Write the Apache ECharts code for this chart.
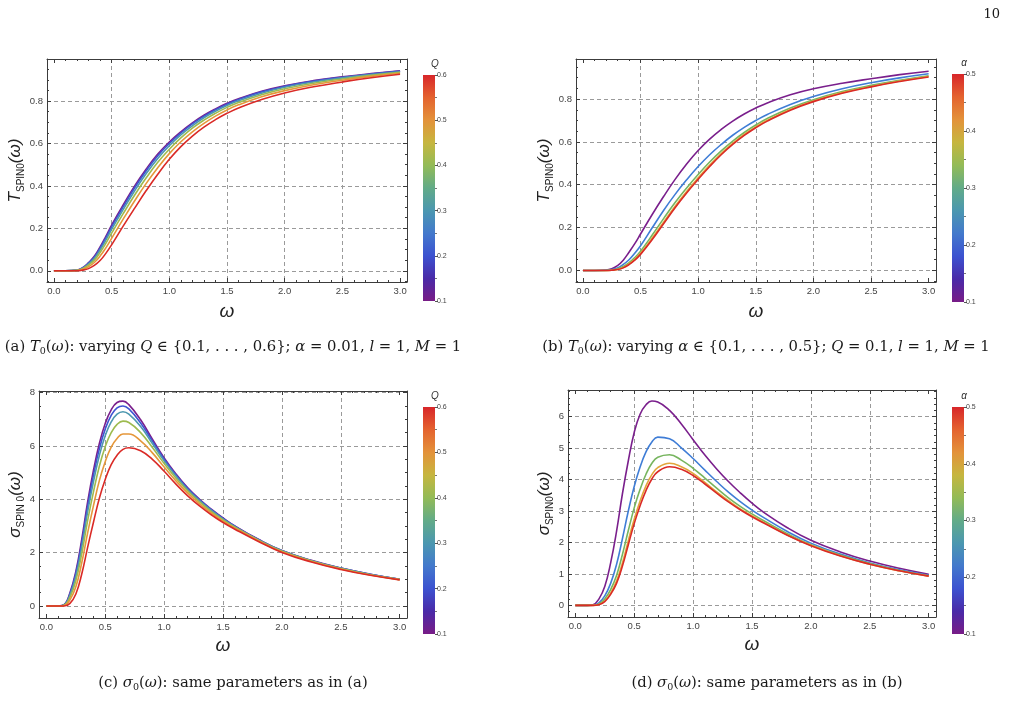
<!DOCTYPE html>
<html>
<head>
<meta charset="utf-8">
<script src="https://cdn.jsdelivr.net/npm/echarts@6/dist/echarts.min.js"></script>
<style>
  html, body { margin: 0; padding: 0; background: #fff; }
  #main { width: 1010px; height: 701px; }
</style>
</head>
<body>
<div id="main"></div>
<script>
// sample points on the omega axis
const omegaT = [0, 0.1, 0.2, 0.25, 0.3, 0.35, 0.4, 0.45, 0.5, 0.6, 0.7, 0.8, 0.9, 1.0, 1.1, 1.2, 1.3, 1.4, 1.5, 1.6, 1.8, 2.0, 2.25, 2.5, 2.75, 3.0];
const omegaS = [0, 0.1, 0.15, 0.2, 0.25, 0.3, 0.35, 0.4, 0.45, 0.5, 0.55, 0.6, 0.65, 0.7, 0.8, 0.9, 1.0, 1.1, 1.2, 1.3, 1.4, 1.5, 1.6, 1.8, 2.0, 2.25, 2.5, 2.75, 3.0];

const qValues = [0.1, 0.2, 0.3, 0.4, 0.5, 0.6];
const alphaValues = [0.1, 0.2, 0.3, 0.4, 0.5];

// (a) T0(omega), varying Q
const tQ01 = [0, 0, 0.003, 0.015, 0.038, 0.068, 0.112, 0.162, 0.215, 0.31, 0.40, 0.48, 0.55, 0.607, 0.655, 0.697, 0.733, 0.763, 0.789, 0.811, 0.846, 0.872, 0.896, 0.914, 0.929, 0.942];
const tQ02 = [0, 0, 0.003, 0.014, 0.036, 0.064, 0.106, 0.155, 0.207, 0.301, 0.391, 0.471, 0.542, 0.600, 0.649, 0.692, 0.728, 0.759, 0.785, 0.807, 0.843, 0.869, 0.894, 0.912, 0.927, 0.941];
const tQ03 = [0, 0, 0.002, 0.012, 0.032, 0.059, 0.098, 0.144, 0.195, 0.288, 0.377, 0.458, 0.529, 0.589, 0.640, 0.683, 0.721, 0.752, 0.779, 0.801, 0.837, 0.865, 0.890, 0.909, 0.925, 0.938];
const tQ04 = [0, 0, 0.002, 0.010, 0.027, 0.050, 0.086, 0.129, 0.177, 0.269, 0.357, 0.438, 0.511, 0.573, 0.626, 0.672, 0.710, 0.742, 0.770, 0.793, 0.830, 0.858, 0.884, 0.904, 0.921, 0.935];
const tQ05 = [0, 0, 0.001, 0.007, 0.019, 0.039, 0.069, 0.108, 0.153, 0.243, 0.330, 0.412, 0.486, 0.552, 0.608, 0.655, 0.695, 0.729, 0.758, 0.782, 0.820, 0.849, 0.877, 0.898, 0.916, 0.931];
const tQ06 = [0, 0, 0, 0.003, 0.01, 0.025, 0.048, 0.082, 0.122, 0.21, 0.295, 0.378, 0.455, 0.525, 0.585, 0.635, 0.677, 0.712, 0.742, 0.767, 0.807, 0.838, 0.867, 0.89, 0.91, 0.926];

// (b) T0(omega), varying alpha
const tA01 = [0, 0, 0.002, 0.008, 0.022, 0.048, 0.085, 0.125, 0.17, 0.26, 0.345, 0.425, 0.497, 0.56, 0.613, 0.658, 0.697, 0.73, 0.758, 0.782, 0.82, 0.848, 0.874, 0.895, 0.914, 0.93];
const tA02 = [0, 0, 0.001, 0.004, 0.012, 0.028, 0.05, 0.08, 0.115, 0.198, 0.28, 0.355, 0.423, 0.485, 0.54, 0.588, 0.631, 0.668, 0.70, 0.728, 0.775, 0.812, 0.848, 0.876, 0.899, 0.918];
const tA03 = [0, 0, 0, 0.002, 0.007, 0.018, 0.036, 0.060, 0.09, 0.164, 0.242, 0.317, 0.385, 0.448, 0.506, 0.558, 0.604, 0.644, 0.679, 0.709, 0.758, 0.797, 0.835, 0.864, 0.888, 0.909];
const tA04 = [0, 0, 0, 0.001, 0.005, 0.014, 0.030, 0.052, 0.080, 0.150, 0.225, 0.300, 0.369, 0.432, 0.492, 0.546, 0.593, 0.635, 0.670, 0.701, 0.751, 0.791, 0.830, 0.859, 0.884, 0.905];
const tA05 = [0, 0, 0, 0.001, 0.004, 0.012, 0.027, 0.048, 0.075, 0.143, 0.218, 0.293, 0.362, 0.425, 0.485, 0.54, 0.588, 0.63, 0.666, 0.697, 0.748, 0.788, 0.827, 0.857, 0.882, 0.903];

// (c) sigma0(omega), varying Q
const sQ01 = [0, 0, 0.05, 0.5, 1.3, 2.5, 3.9, 5.1, 6.1, 6.85, 7.35, 7.63, 7.68, 7.55, 6.98, 6.25, 5.55, 4.95, 4.43, 4.0, 3.63, 3.3, 3.0, 2.5, 2.08, 1.71, 1.42, 1.19, 1.0];
const sQ02 = [0, 0, 0.045, 0.46, 1.22, 2.37, 3.73, 4.91, 5.9, 6.64, 7.15, 7.43, 7.5, 7.39, 6.86, 6.18, 5.5, 4.91, 4.4, 3.98, 3.61, 3.28, 2.99, 2.49, 2.07, 1.7, 1.42, 1.19, 1.0];
const sQ03 = [0, 0, 0.04, 0.41, 1.11, 2.21, 3.53, 4.67, 5.65, 6.39, 6.9, 7.19, 7.28, 7.19, 6.73, 6.09, 5.44, 4.87, 4.36, 3.95, 3.58, 3.26, 2.97, 2.48, 2.07, 1.7, 1.41, 1.18, 1.0];
const sQ04 = [0, 0, 0.03, 0.33, 0.95, 1.96, 3.2, 4.29, 5.25, 5.98, 6.5, 6.81, 6.93, 6.88, 6.5, 5.94, 5.34, 4.79, 4.31, 3.9, 3.54, 3.23, 2.95, 2.47, 2.05, 1.69, 1.4, 1.17, 0.99];
const sQ05 = [0, 0, 0.02, 0.23, 0.72, 1.62, 2.74, 3.77, 4.71, 5.42, 5.96, 6.28, 6.45, 6.45, 6.19, 5.74, 5.21, 4.69, 4.23, 3.83, 3.49, 3.18, 2.92, 2.45, 2.03, 1.67, 1.39, 1.16, 0.99];
const sQ06 = [0, 0, 0, 0.1, 0.45, 1.2, 2.2, 3.15, 4.05, 4.75, 5.3, 5.65, 5.87, 5.93, 5.82, 5.5, 5.05, 4.57, 4.13, 3.75, 3.42, 3.13, 2.88, 2.42, 2.01, 1.65, 1.37, 1.15, 0.98];

// (d) sigma0(omega), varying alpha
const sA01 = [0, 0, 0.02, 0.2, 0.6, 1.35, 2.35, 3.55, 4.6, 5.5, 6.08, 6.38, 6.5, 6.47, 6.2, 5.77, 5.27, 4.78, 4.34, 3.94, 3.58, 3.25, 2.96, 2.47, 2.07, 1.7, 1.41, 1.18, 0.99];
const sA02 = [0, 0, 0.005, 0.08, 0.3, 0.7, 1.3, 2.12, 3.0, 3.78, 4.4, 4.88, 5.2, 5.35, 5.3, 5.01, 4.67, 4.3, 3.94, 3.6, 3.3, 3.03, 2.79, 2.35, 1.98, 1.63, 1.35, 1.13, 0.96];
const sA03 = [0, 0, 0.002, 0.045, 0.2, 0.5, 0.95, 1.62, 2.38, 3.1, 3.69, 4.17, 4.52, 4.71, 4.79, 4.62, 4.36, 4.05, 3.73, 3.42, 3.15, 2.91, 2.69, 2.28, 1.93, 1.6, 1.33, 1.11, 0.94];
const sA04 = [0, 0, 0.001, 0.027, 0.14, 0.39, 0.77, 1.35, 2.06, 2.74, 3.32, 3.8, 4.16, 4.38, 4.52, 4.41, 4.2, 3.91, 3.61, 3.33, 3.07, 2.85, 2.64, 2.24, 1.91, 1.58, 1.31, 1.1, 0.93];
const sA05 = [0, 0, 0, 0.02, 0.12, 0.35, 0.7, 1.25, 1.93, 2.6, 3.17, 3.65, 4.02, 4.25, 4.41, 4.33, 4.13, 3.86, 3.57, 3.29, 3.04, 2.82, 2.62, 2.23, 1.9, 1.57, 1.31, 1.1, 0.93];

// tick labels
const xTicks = [0, 0.5, 1, 1.5, 2, 2.5, 3];
const xGridLines = [0.5, 1, 1.5, 2, 2.5];
const yTicksT = [0, 0.2, 0.4, 0.6, 0.8];
const yTicksSQ = [0, 2, 4, 6, 8];
const yTicksSA = [0, 1, 2, 3, 4, 5, 6];

const qColors = ['#7a1f8c', '#3e55d2', '#4d98b0', '#9dbb4f', '#e5973a', '#da2a26'];
const alphaColors = ['#7a1f8c', '#3f7dd6', '#77b55f', '#e2a63c', '#da2a26'];
const rainbowStops = [
  [0, '#781c86'], [0.1, '#4a2aa8'], [0.2, '#3c52d0'], [0.3, '#4379cc'],
  [0.4, '#4b97b0'], [0.5, '#62ab88'], [0.6, '#93bb57'], [0.7, '#c6b63f'],
  [0.8, '#e3923a'], [0.9, '#e4632f'], [1, '#d8262a']
];

const FRAME = '#3c3c3c';
const LABEL = '#444';
const SANS = 'Liberation Sans';
const SERIF = 'DejaVu Serif';

const chart = echarts.init(document.getElementById('main'), null, { renderer: 'canvas' });

const grids = [];
const xAxes = [];
const yAxes = [];
const series = [];

function minorTicks(min, max, step, majorStep) {
  const out = [];
  for (let k = Math.ceil(min / step); k * step <= max; k++) {
    const v = Math.round(k * step * 10000) / 10000;
    const r = v / majorStep;
    if (Math.abs(r - Math.round(r)) > 1e-6) out.push(v);
  }
  return out;
}

// one value axis; only ticks / line / labels switched on as asked
function axis(gi, pos, min, max, o) {
  return {
    type: 'value', gridIndex: gi, position: pos, min: min, max: max,
    silent: true,
    axisLine: { show: !!o.line, onZero: false, lineStyle: { color: FRAME, width: 1 } },
    axisTick: { show: !!o.len, inside: true, length: o.len || 0, customValues: o.ticks, lineStyle: { color: FRAME, width: 1 } },
    axisLabel: o.fmt
      ? { show: true, customValues: o.ticks, formatter: o.fmt, color: LABEL, fontFamily: SANS, fontSize: 9.5, margin: 4 }
      : { show: false },
    splitLine: o.split
      ? { show: true, lineStyle: { color: '#9a9a9a', width: 1, type: [4, 3] } }
      : { show: false },
    name: o.name || '', nameLocation: 'middle', nameGap: o.nameGap || 0,
    nameRotate: o.nameRotate, nameTextStyle: o.nameStyle
  };
}

const nameRich = {
  t: { fontFamily: SANS, fontStyle: 'italic', fontSize: 17, lineHeight: 22, color: '#222' },
  s: { fontFamily: SANS, fontSize: 10, lineHeight: 10, verticalAlign: 'bottom', color: '#222' }
};

function addPlot(p) {
  const gi = grids.length;
  grids.push({ left: p.box[0], top: p.box[1], width: p.box[2], height: p.box[3], outerBoundsMode: 'none', containLabel: false });
  const xi = xAxes.length, yi = yAxes.length;
  const xMinor = minorTicks(p.x[0], p.x[1], 0.1, 0.5);
  const yMinor = minorTicks(p.y[0], p.y[1], p.yMinor, p.yMajor);
  const fmtX = v => v.toFixed(1);

  xAxes.push(axis(gi, 'bottom', p.x[0], p.x[1], {
    line: true, len: 4, ticks: xTicks, fmt: fmtX,
    name: '\u03c9', nameGap: p.xNameGap,
    nameStyle: { fontFamily: SANS, fontStyle: 'italic', fontSize: 19, color: '#222' }
  }));
  xAxes.push(axis(gi, 'bottom', p.x[0], p.x[1], { len: 2, ticks: xMinor }));
  xAxes.push(axis(gi, 'top', p.x[0], p.x[1], { line: true, len: 4, ticks: xTicks }));
  xAxes.push(axis(gi, 'top', p.x[0], p.x[1], { len: 2, ticks: xMinor }));
  xAxes.push(axis(gi, 'bottom', p.x[0], p.x[1], { ticks: xGridLines, split: true }));

  yAxes.push(axis(gi, 'left', p.y[0], p.y[1], {
    line: true, len: 4, ticks: p.yTicks, fmt: p.yFmt,
    name: p.yName, nameGap: p.yNameGap, nameRotate: 90,
    nameStyle: { rich: nameRich }
  }));
  yAxes.push(axis(gi, 'left', p.y[0], p.y[1], { len: 2, ticks: yMinor }));
  yAxes.push(axis(gi, 'right', p.y[0], p.y[1], { line: true, len: 4, ticks: p.yTicks }));
  yAxes.push(axis(gi, 'right', p.y[0], p.y[1], { len: 2, ticks: yMinor }));
  yAxes.push(axis(gi, 'left', p.y[0], p.y[1], { ticks: p.yTicks, split: true }));

  p.curves.forEach((c, i) => {
    series.push({
      type: 'line', xAxisIndex: xi, yAxisIndex: yi,
      data: p.omega.map((w, k) => [w, c[k]]),
      showSymbol: false, smooth: 0.45, silent: true, z: 3 + i,
      lineStyle: { width: 1.6, color: p.colors[i] },
      itemStyle: { color: p.colors[i] }
    });
  });
}

function addColorbar(box, values, label) {
  const gi = grids.length;
  grids.push({ left: box[0], top: box[1], width: box[2], height: box[3], outerBoundsMode: 'none', containLabel: false });
  const xi = xAxes.length, yi = yAxes.length;
  const vmin = values[0], vmax = values[values.length - 1];
  xAxes.push({ type: 'category', gridIndex: gi, data: [label], show: false });
  yAxes.push({
    type: 'value', gridIndex: gi, position: 'right', min: vmin, max: vmax, silent: true,
    name: label, nameLocation: 'end', nameGap: 6,
    nameTextStyle: { fontFamily: SANS, fontStyle: 'italic', fontSize: 10, color: '#333', align: 'center' },
    axisLine: { show: false },
    axisTick: { show: true, inside: false, length: 3, customValues: values, lineStyle: { color: '#555' } },
    axisLabel: { show: true, customValues: values, formatter: v => v.toFixed(1), color: LABEL, fontFamily: SANS, fontSize: 7, margin: 2 },
    splitLine: { show: false }
  });
  yAxes.push({
    type: 'value', gridIndex: gi, position: 'right', min: vmin, max: vmax, silent: true,
    axisLine: { show: false },
    axisTick: { show: true, inside: false, length: 2, customValues: minorTicks(vmin, vmax, 0.05, 0.1), lineStyle: { color: '#777' } },
    axisLabel: { show: false }, splitLine: { show: false }
  });
  const grad = new echarts.graphic.LinearGradient(0, 1, 0, 0,
    rainbowStops.map(s => ({ offset: s[0], color: s[1] })));
  series.push({ type: 'bar', xAxisIndex: xi, yAxisIndex: yi, stack: 'cb' + gi, data: [vmin],
    barWidth: '100%', silent: true, itemStyle: { color: 'rgba(0,0,0,0)' } });
  series.push({ type: 'bar', xAxisIndex: xi, yAxisIndex: yi, stack: 'cb' + gi, data: [vmax - vmin],
    barWidth: '100%', silent: true, itemStyle: { color: grad } });
}

addPlot({
  box: [47, 59, 360, 223], x: [-0.06, 3.06], y: [-0.053, 0.998],
  yTicks: yTicksT, yMajor: 0.2, yMinor: 0.05, yFmt: v => v.toFixed(1),
  yName: '{t|T}{s|SPIN0}{t|(\u03c9)}', yNameGap: 16, xNameGap: 20,
  omega: omegaT, curves: [tQ01, tQ02, tQ03, tQ04, tQ05, tQ06], colors: qColors
});
addPlot({
  box: [576, 59, 360, 223], x: [-0.06, 3.064], y: [-0.054, 0.987],
  yTicks: yTicksT, yMajor: 0.2, yMinor: 0.05, yFmt: v => v.toFixed(1),
  yName: '{t|T}{s|SPIN0}{t|(\u03c9)}', yNameGap: 15, xNameGap: 20,
  omega: omegaT, curves: [tA01, tA02, tA03, tA04, tA05], colors: alphaColors
});
addPlot({
  box: [39, 391, 368, 227], x: [-0.063, 3.062], y: [-0.45, 8.06],
  yTicks: yTicksSQ, yMajor: 2, yMinor: 0.5, yFmt: v => String(v),
  yName: '{t|\u03c3}{s|SPIN 0}{t|(\u03c9)}', yNameGap: 3, xNameGap: 18,
  omega: omegaS, curves: [sQ01, sQ02, sQ03, sQ04, sQ05, sQ06], colors: qColors
});
addPlot({
  box: [568, 390, 368, 227], x: [-0.062, 3.062], y: [-0.37, 6.85],
  yTicks: yTicksSA, yMajor: 1, yMinor: 0.2, yFmt: v => String(v),
  yName: '{t|\u03c3}{s|SPIN0}{t|(\u03c9)}', yNameGap: 3, xNameGap: 18,
  omega: omegaS, curves: [sA01, sA02, sA03, sA04, sA05], colors: alphaColors
});

addColorbar([423, 75, 12, 226], qValues, 'Q');
addColorbar([952, 74, 12, 228], alphaValues, '\u03b1');
addColorbar([423, 407, 12, 227], qValues, 'Q');
addColorbar([952, 407, 12, 227], alphaValues, '\u03b1');

const capRich = {
  i: { fontFamily: SERIF, fontStyle: 'italic', fontSize: 14.8, lineHeight: 20, color: '#1a1a1a' },
  sub: { fontFamily: SERIF, fontSize: 9.5, lineHeight: 12, verticalAlign: 'bottom', color: '#1a1a1a' }
};
function caption(x, y, text) {
  return {
    type: 'text', x: x, y: y, silent: true,
    style: { text: text, align: 'center', verticalAlign: 'middle', fontFamily: SERIF, fontSize: 14.8,
      lineHeight: 20, fill: '#1a1a1a', rich: capRich }
  };
}

chart.setOption({
  animation: false,
  backgroundColor: '#fff',
  grid: grids,
  xAxis: xAxes,
  yAxis: yAxes,
  series: series,
  graphic: [
    { type: 'text', right: 10, top: 8, silent: true,
      style: { text: '10', fontFamily: SERIF, fontSize: 13, fill: '#1a1a1a' } },
    caption(233, 347, '(a) {i|T}{sub|0}({i|\u03c9}): varying {i|Q} \u2208 {0.1, . . . , 0.6}; {i|\u03b1} = 0.01, {i|l} = 1, {i|M} = 1'),
    caption(766, 347, '(b) {i|T}{sub|0}({i|\u03c9}): varying {i|\u03b1} \u2208 {0.1, . . . , 0.5}; {i|Q} = 0.1, {i|l} = 1, {i|M} = 1'),
    caption(233, 683, '(c) {i|\u03c3}{sub|0}({i|\u03c9}): same parameters as in (a)'),
    caption(767, 683, '(d) {i|\u03c3}{sub|0}({i|\u03c9}): same parameters as in (b)')
  ]
});
</script>
</body>
</html>
